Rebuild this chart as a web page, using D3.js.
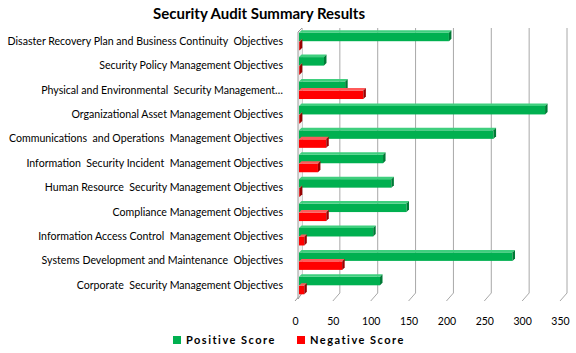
<!DOCTYPE html>
<html>
<head>
<meta charset="utf-8">
<script src="https://cdn.jsdelivr.net/npm/d3@7"></script>
<style>
  body { margin: 0; background: #fff; }
  #chart { width: 576px; height: 353px; }
  text { font-family: Lato, "Open Sans", sans-serif; fill: #000; }
</style>
</head>
<body>
<div id="chart"></div>
<script>
const categories = [
  "Disaster Recovery Plan and Business Continuity  Objectives",
  "Security Policy Management Objectives",
  "Physical and Environmental  Security Management…",
  "Organizational Asset Management Objectives",
  "Communications  and Operations  Management Objectives",
  "Information  Security Incident  Management Objectives",
  "Human Resource  Security Management Objectives",
  "Compliance Management Objectives",
  "Information Access Control  Management Objectives",
  "Systems Development and Maintenance  Objectives",
  "Corporate  Security Management Objectives"
];
const positiveScore = [198, 33, 61, 325, 257, 111, 122, 142, 98, 282, 107];
const negativeScore = [1, 1, 85, 1, 36, 25, 1, 36, 7, 57, 7];
const xTicks = [0, 50, 100, 150, 200, 250, 300, 350];
const seriesNames = ["Positive Score", "Negative Score"];

const width = 576, height = 353;
const depth = 2.5;      // 3d offset of bar faces
const slant = { dx: -7, dy: 8 }; // floor perspective

const colors = {
  pos: { front: "#00b050", top: "#3fcf7e", side: "#007a36" },
  neg: { front: "#ff0000", top: "#ff5a5a", side: "#9a0000" }
};

const svg = d3.select("#chart").append("svg")
  .attr("width", width).attr("height", height);

svg.append("text")
  .attr("x", 259).attr("y", 19)
  .attr("text-anchor", "middle")
  .style("font-size", "15px").style("font-weight", "bold")
  .text("Security Audit Summary Results");

const xBack = d3.scaleLinear().domain([0, 350]).range([302, 567]);
const xBar = d3.scaleLinear().domain([0, 350]).range([299, 564]);
const xFront = d3.scaleLinear().domain([0, 350]).range([295, 560]);
const y = d3.scaleBand().domain(categories).range([28.5, 297]);

const wallTop = 28, wallBottom = 293;

// gridlines (back wall + floor)
const grid = svg.append("g").attr("class", "grid");
grid.selectAll("path")
  .data(xTicks)
  .join("path")
  .attr("d", d => `M${xBack(d)},${wallTop}V${wallBottom}l${slant.dx},${slant.dy}`)
  .attr("fill", "none")
  .attr("stroke", d => d === 0 ? "#9a9a9a" : "#a8a8a8")
  .attr("stroke-width", 1);

// side wall
svg.append("path")
  .attr("d", `M${xBack(0)},${wallTop}L${xBack(0) - 4},${wallTop + 4}V${wallBottom + 6}L${xBack(0)},${wallBottom}`)
  .attr("fill", "#f2f2f2")
  .attr("stroke", "#9a9a9a");

// category labels
svg.append("g").selectAll("text")
  .data(categories)
  .join("text")
  .attr("x", 283)
  .attr("y", d => y(d) + y.bandwidth() / 2 + 4)
  .attr("text-anchor", "end")
  .style("font-size", "10.6px")
  .style("white-space", "pre")
  .text(d => d);

// bars
const barH = 8.5;
function drawBar(g, x1, yTop, c) {
  const x0 = xBar(0);
  g.append("rect")
    .attr("x", x0).attr("y", yTop)
    .attr("width", Math.max(0, x1 - x0)).attr("height", barH)
    .attr("fill", c.front);
  g.append("path")
    .attr("d", `M${x0},${yTop}l${depth},${-depth}H${x1 + depth}L${x1},${yTop}Z`)
    .attr("fill", c.top);
  g.append("path")
    .attr("d", `M${x1},${yTop}l${depth},${-depth}v${barH}l${-depth},${depth}Z`)
    .attr("fill", c.side);
}

const bars = svg.append("g").attr("class", "bars");
categories.forEach((cat, i) => {
  const cy = y(cat) + y.bandwidth() / 2;
  const g = bars.append("g");
  drawBar(g, xBar(positiveScore[i]), cy - barH + 0.5, colors.pos);
  drawBar(g, xBar(negativeScore[i]), cy + 1, colors.neg);
});

// x axis labels
const axis = svg.append("g")
  .attr("transform", `translate(0,${wallBottom + slant.dy + 14})`)
  .call(d3.axisBottom(xFront).tickValues(xTicks).tickSize(0).tickFormat(d3.format("d")));
axis.select(".domain").remove();
axis.selectAll("text").style("font-size", "10.5px").style("font-family", "Lato, sans-serif");

// legend
const legend = svg.append("g").attr("transform", "translate(173,336)");
const legendX = [0, 124];
seriesNames.forEach((name, i) => {
  const lg = legend.append("g").attr("transform", `translate(${legendX[i]},0)`);
  lg.append("rect").attr("width", 8).attr("height", 8)
    .attr("fill", i === 0 ? colors.pos.front : colors.neg.front);
  lg.append("text").attr("x", 13).attr("y", 8)
    .style("font-size", "11px").style("font-weight", "bold")
    .style("letter-spacing", "1.5px")
    .text(name);
});
</script>
</body>
</html>
